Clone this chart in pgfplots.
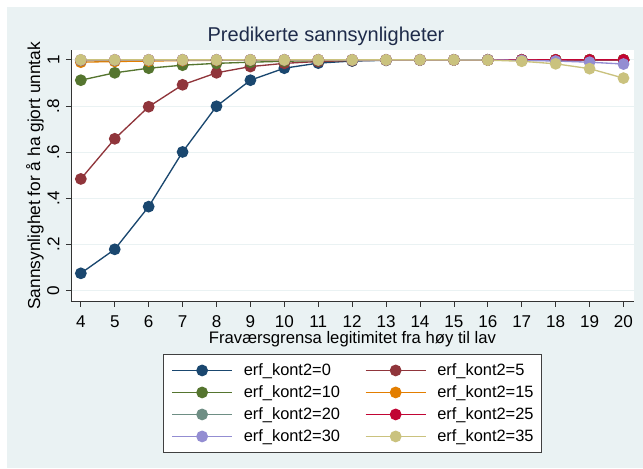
\documentclass[border=0pt]{standalone}
\usepackage{pgfplots}
\pgfplotsset{compat=1.18}
\usepackage{fontspec}
\setmainfont{Liberation Sans}
\definecolor{bgc}{HTML}{EAF2F3}
\definecolor{sNavy}{HTML}{1A476F}
\definecolor{sMaroon}{HTML}{90353B}
\definecolor{sGreen}{HTML}{55752F}
\definecolor{sOrange}{HTML}{E37E00}
\definecolor{sTeal}{HTML}{6E8E84}
\definecolor{sCran}{HTML}{C10534}
\definecolor{sLav}{HTML}{938DD2}
\definecolor{sKhaki}{HTML}{CAC27E}
\definecolor{titlec}{HTML}{1E2B4A}
\begin{document}
\begin{tikzpicture}
\fill[white] (0pt,0pt) rectangle (482.25pt,351pt);
\fill[bgc] (5.25pt,0pt) rectangle (482.25pt,345.75pt);
\begin{axis}[
  at={(53.25pt,124.725pt)}, anchor=south west,
  scale only axis, width=422.25pt, height=188.8pt,
  xmin=3.71, xmax=20.31, ymin=-0.048, ymax=1.043,
  axis x line*=bottom, axis y line*=left,
  axis line style={black!80, line width=0.6pt},
  axis background/.style={fill=white},
  xtick={4,5,...,20},
  ytick={0,0.2,0.4,0.6,0.8,1},
  yticklabels={0,.2,.4,.6,.8,1},
  tick align=outside, major tick length=3.75pt,
  tick style={black!80, line width=0.6pt},
  ymajorgrids, grid style={bgc, line width=0.8pt},
  /pgf/number format/assume math mode=true,
  ticklabel style={font=\fontsize{12.8}{15}\selectfont},
  xticklabel style={yshift=-3pt, text depth=0pt},
  yticklabel style={xshift=-1.5pt, rotate=90, anchor=south},
  every axis title shift=0pt,
  title={Predikerte sannsynligheter},
  title style={at={(axis description cs:0.453,1.056)}, anchor=center, font=\fontsize{15}{17}\selectfont, text=titlec},
  xlabel={Fraværsgrensa legitimitet fra høy til lav},
  xlabel style={at={(axis description cs:0.5,-0.15)}, anchor=center, inner sep=1pt, font=\fontsize{12.5}{15}\selectfont},
  ylabel={Sannsynlighet for å ha gjort unntak},
  ylabel style={at={(axis description cs:-0.064,0.5)}, anchor=center, font=\fontsize{13}{15}\selectfont},
  every axis plot/.append style={line width=1pt, mark=*, mark size=3.9pt},
  legend columns=2,
  legend style={at={(axis description cs:0.5,-0.208)}, anchor=north, draw=black!75, line width=0.6pt, fill=white,
    font=\fontsize{12.3}{15}\selectfont, inner xsep=6pt, inner ysep=5.5pt,
    nodes={inner ysep=0pt, inner xsep=0pt, text height=10pt, text depth=3pt},
    row sep=3.5pt,
    /tikz/every odd column/.style={column sep=8.25pt},
    /tikz/every even column/.style={column sep=18.75pt}},
  legend cell align=left,
  legend image code/.code={\draw[mark repeat=2,mark phase=2] plot coordinates {(0pt,0pt) (22.5pt,0pt) (45pt,0pt)};},
]
\addplot[sNavy] coordinates {(4,0.075) (5,0.179) (6,0.364) (7,0.601) (8,0.799) (9,0.912) (10,0.964) (11,0.986) (12,0.995) (13,0.998) (14,0.999) (15,1) (16,1) (17,1) (18,1) (19,1) (20,1)};
\addlegendentry{erf\_kont2=0}
\addplot[sMaroon] coordinates {(4,0.484) (5,0.658) (6,0.797) (7,0.892) (8,0.944) (9,0.971) (10,0.985) (11,0.993) (12,0.997) (13,0.999) (14,1) (15,1) (16,1) (17,1) (18,1) (19,1) (20,1)};
\addlegendentry{erf\_kont2=5}
\addplot[sGreen] coordinates {(4,0.912) (5,0.944) (6,0.964) (7,0.977) (8,0.985) (9,0.990) (10,0.994) (11,0.997) (12,0.998) (13,0.999) (14,1) (15,1) (16,1) (17,1) (18,1) (19,1) (20,1)};
\addlegendentry{erf\_kont2=10}
\addplot[sOrange] coordinates {(4,0.990) (5,0.993) (6,0.995) (7,0.997) (8,0.998) (9,0.999) (10,0.999) (11,1) (12,1) (13,1) (14,1) (15,1) (16,1) (17,1) (18,1) (19,1) (20,1)};
\addlegendentry{erf\_kont2=15}
\addplot[sTeal] coordinates {(4,0.997) (5,0.998) (6,0.999) (7,1) (8,1) (9,1) (10,1) (11,1) (12,1) (13,1) (14,1) (15,1) (16,1) (17,1) (18,0.999) (19,0.999) (20,0.998)};
\addlegendentry{erf\_kont2=20}
\addplot[sCran] coordinates {(4,0.999) (5,1) (6,1) (7,1) (8,1) (9,1) (10,1) (11,1) (12,1) (13,1) (14,1) (15,1) (16,1) (17,1) (18,1) (19,1) (20,1)};
\addlegendentry{erf\_kont2=25}
\addplot[sLav] coordinates {(4,1) (5,1) (6,1) (7,1) (8,1) (9,1) (10,1) (11,1) (12,1) (13,1) (14,1) (15,1) (16,1) (17,0.998) (18,0.995) (19,0.990) (20,0.982)};
\addlegendentry{erf\_kont2=30}
\addplot[sKhaki] coordinates {(4,1) (5,1) (6,1) (7,1) (8,1) (9,1) (10,1) (11,1) (12,1) (13,1) (14,1) (15,1) (16,0.999) (17,0.994) (18,0.983) (19,0.962) (20,0.921)};
\addlegendentry{erf\_kont2=35}
\end{axis}
\pgfresetboundingbox
\path[use as bounding box] (0pt,0pt) rectangle (482.25pt,351pt);
\end{tikzpicture}
\end{document}
